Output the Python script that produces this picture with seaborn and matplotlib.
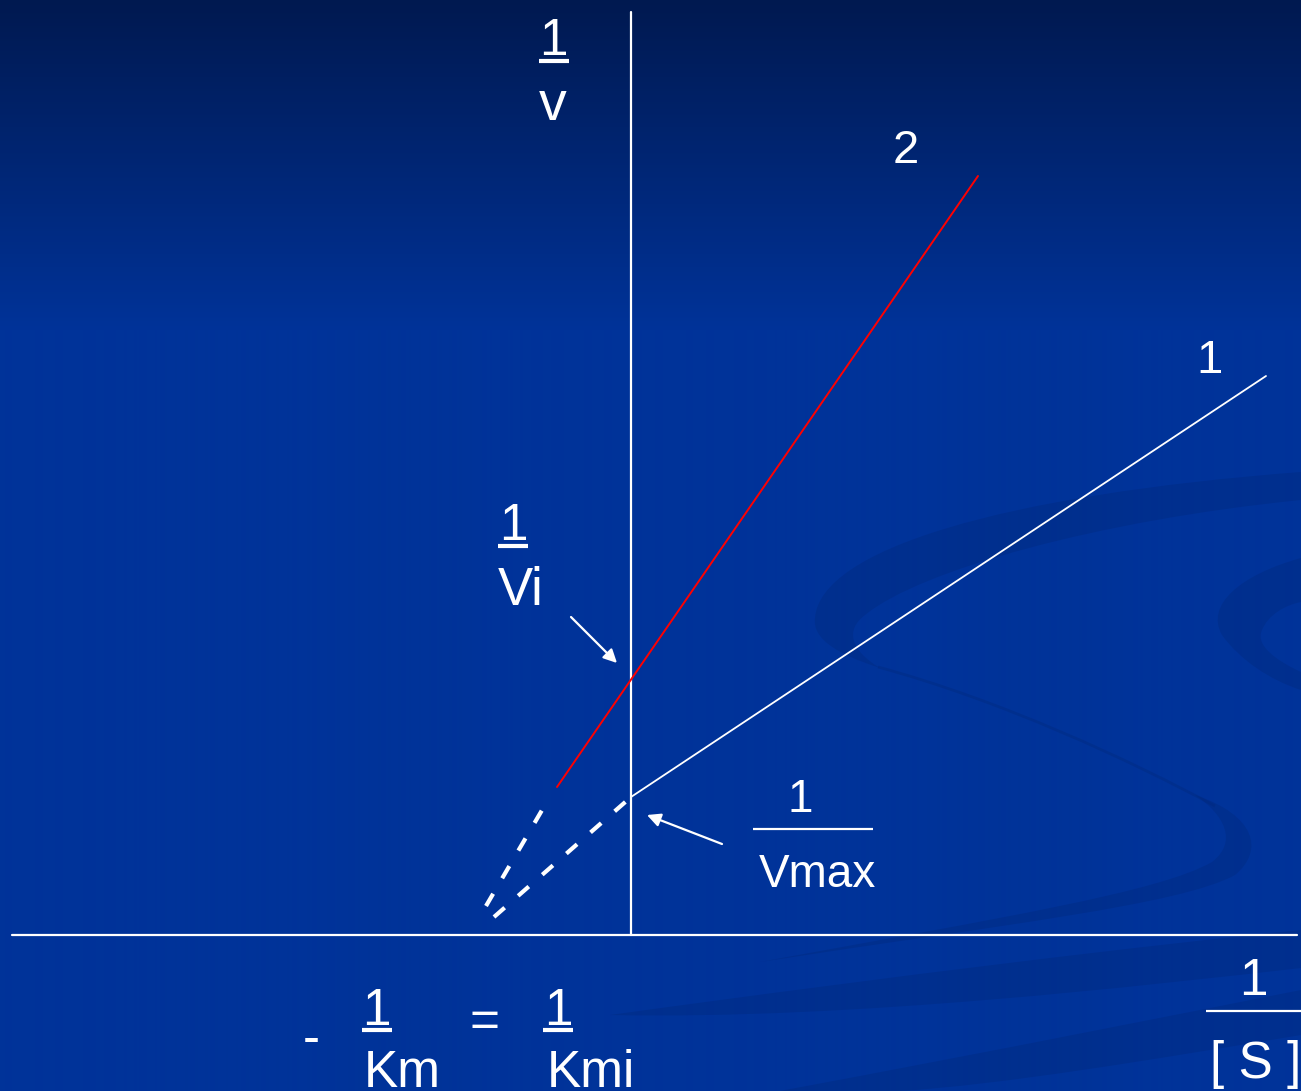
import numpy as np
import pandas as pd
import matplotlib
matplotlib.use('Agg')
import matplotlib.pyplot as plt
import seaborn as sns
from matplotlib.path import Path
from matplotlib.patches import PathPatch

# ----- data (x = 1/[S], y = 1/v, arbitrary units) -----
line1_x = [0.0, 6.35]           # uninhibited, solid part
line1_y = [1.38, 5.59]
line1_ext_x = [-1.37, 0.0]      # dashed extrapolation to the x axis
line1_ext_y = [0.18, 1.38]

line2_x = [-0.74, 3.47]         # with inhibitor (red)
line2_y = [1.48, 7.59]
line2_ext_x = [-1.45, -0.86]
line2_ext_y = [0.29, 1.30]

x_axis_x = [-6.19, 6.66]
y_axis_y = [0.0, 9.23]

sns.set_theme(style='white')
plt.rcParams['font.family'] = ['Liberation Sans', 'DejaVu Sans']

W, H = 1301, 1091
fig = plt.figure(figsize=(W / 100, H / 100), dpi=100)

# ----- background: gradient + faint swirls (pixel coords) -----
bg = fig.add_axes([0, 0, 1, 1])
yy = np.arange(H)
top = np.array([0, 25, 80]) / 255
mid = np.array([0, 51, 153]) / 255
t = np.clip(yy / 330, 0, 1)[:, None]
grad = top * (1 - t) + mid * t
img = np.repeat(grad[:, None, :], 2, axis=1)
bg.imshow(img, extent=[0, W, H, 0], aspect='auto', interpolation='bilinear')
bg.set_xlim(0, W); bg.set_ylim(H, 0)
bg.axis('off')

swirl = '#00287a'
M, C, L, Z = Path.MOVETO, Path.CURVE4, Path.LINETO, Path.CLOSEPOLY
shapes = [
    # big swirl, upper band turning down at the left
    ([(1301, 472), (1000, 495), (820, 550), (815, 618),
      (812, 640), (840, 655), (880, 668),
      (850, 650), (845, 630), (865, 615),
      (920, 570), (1100, 520), (1301, 500), (1301, 472)],
     [M, C, C, C, C, C, C, C, C, C, C, C, C, Z]),
    # lower lobe of big swirl
    ([(1195, 795), (1255, 815), (1265, 850), (1235, 875),
      (1180, 905), (1000, 925), (760, 962),
      (1000, 918), (1160, 892), (1212, 862),
      (1238, 842), (1225, 815), (1195, 795), (1195, 795)],
     [M, C, C, C, C, C, C, C, C, C, C, C, C, Z]),
    # small swirl at right edge
    ([(1301, 558), (1240, 575), (1205, 605), (1222, 635),
      (1240, 660), (1270, 680), (1301, 690),
      (1301, 672), (1301, 672),
      (1275, 660), (1255, 645), (1262, 630),
      (1268, 615), (1285, 605), (1301, 602), (1301, 558)],
     [M, C, C, C, C, C, C, L, L, C, C, C, C, C, C, Z]),
    # bottom bands
    ([(610, 1015), (900, 975), (1150, 945), (1301, 930),
      (1301, 968), (1301, 968),
      (1150, 985), (850, 1020), (610, 1015), (610, 1015)],
     [M, C, C, C, L, L, C, C, C, Z]),
    ([(780, 1091), (1000, 1050), (1200, 1010), (1301, 990),
      (1301, 1035), (1301, 1035),
      (1150, 1060), (1000, 1085), (900, 1091), (780, 1091)],
     [M, C, C, C, L, L, C, C, C, Z]),
]
for verts, codes in shapes:
    bg.add_patch(PathPatch(Path(verts, codes), facecolor=swirl, edgecolor='none',
                           alpha=0.35, zorder=1))
thin = Path([(878, 667), (1000, 700), (1130, 760), (1215, 806)], [M, C, C, C])
bg.add_patch(PathPatch(thin, facecolor='none', edgecolor=swirl, lw=2.0, alpha=0.35, zorder=1))

# ----- plot axes (data coords) -----
ax = fig.add_axes([0, 0, 1, 1])
ax.patch.set_alpha(0)
ax.set_xlim(-6.31, 6.70)
ax.set_ylim(-1.56, 9.35)
ax.axis('off')

flat = dict(ax=ax, estimator=None, sort=False)
sns.lineplot(x=x_axis_x, y=[0, 0], color='white', lw=1.6, **flat)
sns.lineplot(x=[0, 0], y=y_axis_y, color='white', lw=1.6, **flat)

sns.lineplot(x=line1_x, y=line1_y, color='white', lw=1.3, **flat)
sns.lineplot(x=line2_x, y=line2_y, color='#ff0000', lw=1.4, **flat)
sns.lineplot(x=line1_ext_x, y=line1_ext_y, color='white', lw=3,
             linestyle=(0, (3.4, 4.3)), **flat)
sns.lineplot(x=line2_ext_x, y=line2_ext_y, color='white', lw=3,
             linestyle=(0, (3.4, 4.3)), **flat)

# ----- labels (pixel coords on background axes) -----
txt = dict(color='white', ha='center', va='baseline', zorder=5)
bg.text(553, 55, '1', fontsize=37, **txt)
bg.plot([539, 569], [61, 61], color='white', lw=3, solid_capstyle='butt')
bg.text(553, 120, 'v', fontsize=40, **txt)

bg.text(906, 163, '2', fontsize=34, **txt)
bg.text(1209, 373, '1', fontsize=34, **txt)

bg.text(513, 540, '1', fontsize=37, **txt)
bg.plot([498, 528], [546, 546], color='white', lw=3, solid_capstyle='butt')
bg.text(521, 605, 'Vi', fontsize=38, **txt)

bg.text(800, 812, '1', fontsize=33, **txt)
bg.plot([753, 873], [829, 829], color='white', lw=1.6, solid_capstyle='butt')
bg.text(817, 887, 'Vmax', fontsize=33, **txt)

bg.text(311, 1054, '-', fontsize=37, **txt)
bg.text(376, 1025, '1', fontsize=37, **txt)
bg.plot([362, 392], [1030, 1030], color='white', lw=3, solid_capstyle='butt')
bg.text(402, 1087, 'Km', fontsize=37, **txt)
bg.text(484, 1037, '=', fontsize=37, **txt)
bg.text(558, 1025, '1', fontsize=37, **txt)
bg.plot([543, 573], [1030, 1030], color='white', lw=3, solid_capstyle='butt')
bg.text(591, 1087, 'Kmi', fontsize=37, **txt)

bg.text(1253, 995, '1', fontsize=37, **txt)
bg.plot([1206, 1301], [1011, 1011], color='white', lw=1.6, solid_capstyle='butt')
bg.text(1210, 1078, '[ S ]', fontsize=37, color='white', ha='left', va='baseline')

arrow = dict(arrowstyle='-|>', color='white', lw=1.6, mutation_scale=20,
             shrinkA=0, shrinkB=0)
bg.annotate('', xy=(617, 663), xytext=(571, 617), arrowprops=arrow)
bg.annotate('', xy=(647, 815), xytext=(722, 844), arrowprops=arrow)

fig.savefig('out.png', dpi=100)
